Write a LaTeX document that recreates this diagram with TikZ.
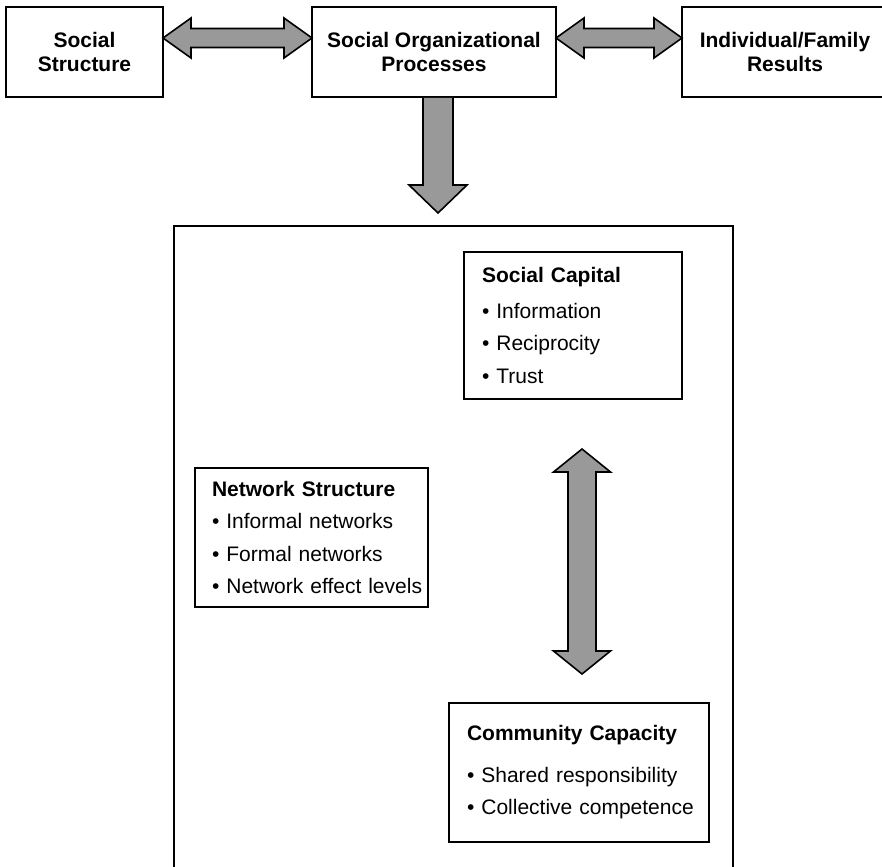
\documentclass[tikz,border=0pt]{standalone}
\usepackage{fontspec}
\setmainfont{Liberation Sans}
\usetikzlibrary{calc}
\definecolor{arrowgray}{HTML}{999999}
\newcommand{\itm}[1]{\mbox{\textbullet\ #1}}
% horizontal double block arrow, tips #1 (left) and #2 (right)
\newcommand{\hdarrow}[2]{%
  \draw[blockarrow] (#1) -- ($(#1)+(28,-20)$) -- ($(#1)+(28,-9.5)$) -- ($(#2)+(-28,-9.5)$)
    -- ($(#2)+(-28,-20)$) -- (#2) -- ($(#2)+(-28,20)$) -- ($(#2)+(-28,9.5)$)
    -- ($(#1)+(28,9.5)$) -- ($(#1)+(28,20)$) -- cycle;}
% vertical double block arrow, tips #1 (top) and #2 (bottom)
\newcommand{\vdarrow}[2]{%
  \draw[blockarrow] (#1) -- ($(#1)+(28.5,23)$) -- ($(#1)+(14,23)$) -- ($(#2)+(14,-23)$)
    -- ($(#2)+(28.5,-23)$) -- (#2) -- ($(#2)+(-28.5,-23)$) -- ($(#2)+(-14,-23)$)
    -- ($(#1)+(-14,23)$) -- ($(#1)+(-28.5,23)$) -- cycle;}

\begin{document}
\begin{tikzpicture}[x=1pt,y=-1pt,line join=miter,
  every node/.style={inner sep=0pt,outer sep=0pt},
  topbox/.style={draw,line width=1.6,minimum height=90,align=center,
    font=\fontsize{21}{24}\selectfont\bfseries},
  listbox/.style={draw,line width=1.6,inner xsep=18,align=left,
    font=\fontsize{21}{32.5}\selectfont},
  blockarrow/.style={draw,line width=1.6,fill=arrowgray}]
  \path[use as bounding box] (0,0) rectangle (882,866);  % source canvas 882x866px, y downwards
  % ---- top row: three boxes (px 6-163, 312-556, 682-edge; y 7-97) ----
  \node[topbox,minimum width=157] (ss)  at ( 84.5,52) {Social\\Structure};
  \node[topbox,minimum width=244] (sop) at (434,52)   {Social Organizational\\Processes};
  \node[topbox,minimum width=206] (ifr) at (785,52)   {Individual/Family\\Results};  % right side runs off the canvas
  % ---- big frame below, bottom edge off the canvas ----
  \draw[line width=1.6] (174,880) -- (174,226) -- (733,226) -- (733,880);
  % ---- inner boxes ----
  \node[listbox,text width=182,minimum height=147] (sc) at (573,325.5)
    {\textbf{Social Capital}\\[3pt]\itm{Information}\\\itm{Reciprocity}\\\itm{Trust}};
  \node[listbox,inner xsep=17,text width=199,minimum height=139] (ns) at (311.5,537.5)
    {\textbf{Network Structure}\\\itm{Informal networks}\\\itm{Formal networks}\\\itm{Network effect levels}};
  \node[listbox,text width=224,minimum height=139] (cc) at (579,772.5)
    {\textbf{Community Capacity}\\[9pt]\itm{Shared responsibility}\\\itm{Collective competence}};
  % ---- arrow tips (px) ----
  \coordinate (ssR)  at (ss.east |- 0,38);
  \coordinate (sopL) at (sop.west |- 0,38);
  \coordinate (sopR) at (sop.east |- 0,38);
  \coordinate (ifrL) at (ifr.west |- 0,38);
  \coordinate (dnTop) at ($(sop.south)+(4,0.8)$);
  \coordinate (dnTip) at (438,213);
  \coordinate (capTip) at (582,449);
  \coordinate (ccTip)  at (582,674);
  % ---- block arrows ----
  \hdarrow{ssR}{sopL}
  \hdarrow{sopR}{ifrL}
  \draw[blockarrow] ($(dnTop)+(-15,0)$) -- ($(dnTip)+(-15,-28)$) -- ($(dnTip)+(-29,-28)$) -- (dnTip)
    -- ($(dnTip)+(29,-28)$) -- ($(dnTip)+(15,-28)$) -- ($(dnTop)+(15,0)$);
  \vdarrow{capTip}{ccTip}
\end{tikzpicture}
\end{document}
